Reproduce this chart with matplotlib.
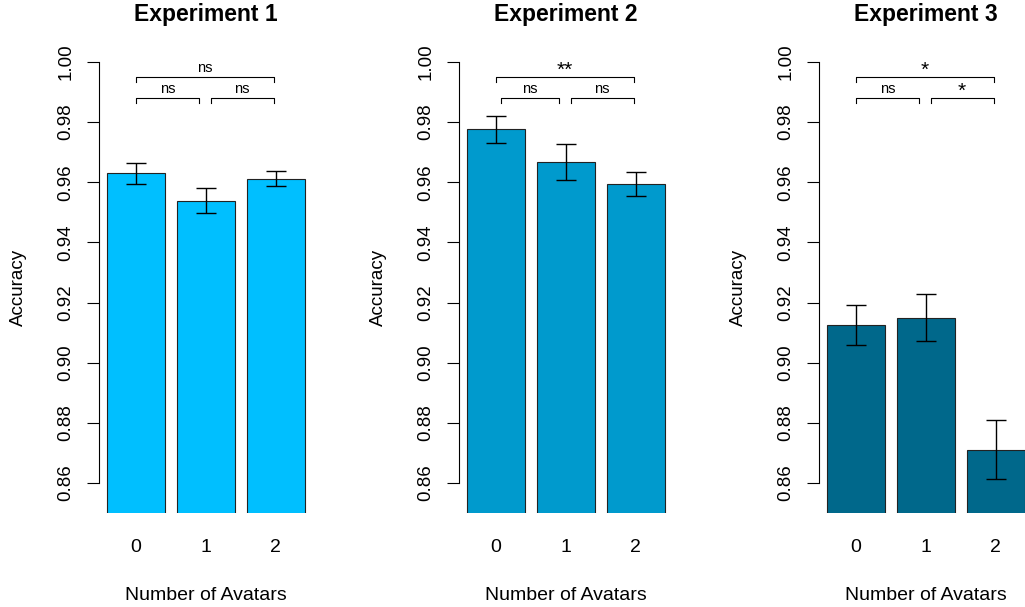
import matplotlib
matplotlib.use("Agg")
import matplotlib.pyplot as plt
import numpy as np

plt.rcParams['font.family'] = ['Liberation Sans', 'DejaVu Sans']

# ---- data ----
titles = ["Experiment 1", "Experiment 2", "Experiment 3"]
categories = ["0", "1", "2"]
means = [
    [0.9630, 0.9538, 0.9611],
    [0.9776, 0.9666, 0.9594],
    [0.9126, 0.9149, 0.8710],
]
err_low = [
    [0.9594, 0.9498, 0.9587],
    [0.9731, 0.9607, 0.9553],
    [0.9060, 0.9072, 0.8612],
]
err_high = [
    [0.9663, 0.9581, 0.9636],
    [0.9821, 0.9728, 0.9635],
    [0.9193, 0.9227, 0.8808],
]
# significance labels: (top 0-2, lower 0-1, lower 1-2)
sig_labels = [
    ["ns", "ns", "ns"],
    ["**", "ns", "ns"],
    ["*", "ns", "*"],
]
yticks = [0.86, 0.88, 0.90, 0.92, 0.94, 0.96, 0.98, 1.00]
colors = ["#00BFFF", "#009ACD", "#00688B"]

W, H = 1025, 607
fig = plt.figure(figsize=(W / 100, H / 100), dpi=100)

centers = np.array([0.7, 1.9, 3.1])
for i in range(3):
    left_px = 99 + 360 * i
    ax = fig.add_axes([left_px / W, (H - 513) / H, 214 / W, (513 - 62) / H])
    ax.set_xlim(0.064, 3.736)
    ax.set_ylim(0.85, 1.00)
    m = np.array(means[i])
    lo = np.array(err_low[i])
    hi = np.array(err_high[i])
    ax.bar(centers, m, width=1.0, color=colors[i], edgecolor="#222222", linewidth=0.8)
    ax.errorbar(centers, m, yerr=[m - lo, hi - m], fmt='none', ecolor='black',
                elinewidth=1.0, capsize=7.5, capthick=1.0)
    for s in ["top", "right", "bottom"]:
        ax.spines[s].set_visible(False)
    ax.spines["left"].set_bounds(0.86, 1.00)
    ax.spines["left"].set_linewidth(0.8)
    ax.set_yticks(yticks)
    ax.set_yticklabels([f"{t:.2f}" for t in yticks], rotation=90, va='center', fontsize=13.5)
    ax.tick_params(axis='y', length=8.6, width=0.8, pad=9)
    ax.set_xticks(centers)
    ax.set_xticklabels(categories, fontsize=14)
    ax.tick_params(axis='x', length=0, pad=19)

    # significance brackets
    tick_h = 0.0017
    lleft = 0.79 if i == 1 else 0.7
    brackets = [
        (0.7, 3.06, 0.995, sig_labels[i][0]),
        (lleft, 1.78, 0.988, sig_labels[i][1]),
        (1.98, 3.06, 0.988, sig_labels[i][2]),
    ]
    for x0, x1, yb, lab in brackets:
        ax.plot([x0, x0, x1, x1], [yb - tick_h, yb, yb, yb - tick_h], color='black',
                lw=0.8, clip_on=False)
        if lab.startswith("*"):
            ax.text((x0 + x1) / 2, yb - 0.0008, lab, ha='center', va='bottom', fontsize=15)
        else:
            ax.text((x0 + x1) / 2, yb + 0.0008, lab, ha='center', va='bottom', fontsize=10.5)

    cx = (left_px + 107) / W
    fig.text(cx, (H - 21) / H, titles[i], ha='center', va='baseline',
             fontsize=16.5, fontweight='bold')
    fig.text(cx, (H - 596) / H, "Number of Avatars", ha='center', va='center', fontsize=14)
    fig.text((18 + 360 * i) / W, (H - 287) / H, "Accuracy", ha='center', va='center',
             rotation=90, fontsize=13.5)

fig.savefig("out.png", dpi=100)
